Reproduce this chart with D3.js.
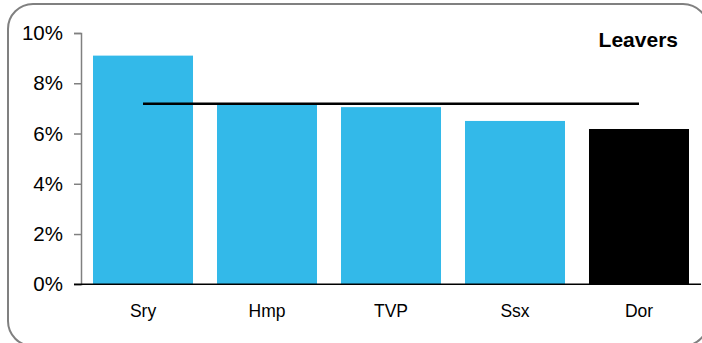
<!DOCTYPE html>
<html><head><meta charset="utf-8">
<script src="https://cdn.jsdelivr.net/npm/d3@7"></script>
<style>body{margin:0;background:#fff}svg{display:block}</style>
</head><body>
<script>
const categories = ["Sry","Hmp","TVP","Ssx","Dor"];
const values = [9.1, 7.15, 7.05, 6.5, 6.18];
const barColors = ["#33b9e9","#33b9e9","#33b9e9","#33b9e9","#000000"];
const averageValue = 7.18;
const yTicks = [0,2,4,6,8,10];
const title = "Leavers";

const W = 702, H = 343;
const svg = d3.select("body").append("svg").attr("width", W).attr("height", H);

svg.append("rect").attr("x", 8).attr("y", 4).attr("width", 700).attr("height", 342)
  .attr("rx", 25).attr("fill", "#fff").attr("stroke", "#808080").attr("stroke-width", 2);

const x = d3.scaleBand().domain(categories).range([81, 701]).paddingInner(0.1935).paddingOuter(0.0968);
const y = d3.scaleLinear().domain([0, 10]).range([284.3, 33]);

svg.selectAll("rect.bar").data(categories).enter().append("rect")
  .attr("class","bar")
  .attr("x", d => x(d)).attr("width", x.bandwidth())
  .attr("y", (d,i) => y(values[i])).attr("height", (d,i) => y(0) - y(values[i]))
  .attr("fill", (d,i) => barColors[i]);

// y axis
const yAxis = svg.append("g").attr("transform", "translate(81,0)")
  .call(d3.axisLeft(y).tickValues(yTicks).tickFormat(d => d + "%").tickSize(7).tickPadding(11));
yAxis.select(".domain").attr("stroke", "#808080").attr("stroke-width", 1.5);
yAxis.selectAll(".tick line").attr("stroke", "#808080").attr("stroke-width", 1.5);
yAxis.selectAll("text").attr("font-family", "Liberation Sans, Arial, sans-serif")
  .attr("font-size", 20.5).attr("fill", "#000");

// x axis
const xAxis = svg.append("g").attr("transform", `translate(0,${y(0)})`)
  .call(d3.axisBottom(x).tickSize(0).tickPadding(20));
xAxis.select(".domain").remove();
xAxis.selectAll("text").attr("font-family", "Liberation Sans, Arial, sans-serif")
  .attr("font-size", 17.5).attr("fill", "#000");
svg.append("line").attr("x1", 74).attr("x2", 701).attr("y1", y(0)).attr("y2", y(0))
  .attr("stroke", "#000").attr("stroke-width", 1.5);

// average line
svg.append("line")
  .attr("x1", x(categories[0]) + x.bandwidth()/2)
  .attr("x2", x(categories[categories.length-1]) + x.bandwidth()/2)
  .attr("y1", y(averageValue)).attr("y2", y(averageValue))
  .attr("stroke", "#000").attr("stroke-width", 2.5);

svg.append("text").attr("x", 678).attr("y", 47).attr("text-anchor", "end")
  .attr("font-family", "Liberation Sans, Arial, sans-serif").attr("font-weight", "bold")
  .attr("font-size", 21).attr("fill", "#000").text(title);
</script>
</body></html>
